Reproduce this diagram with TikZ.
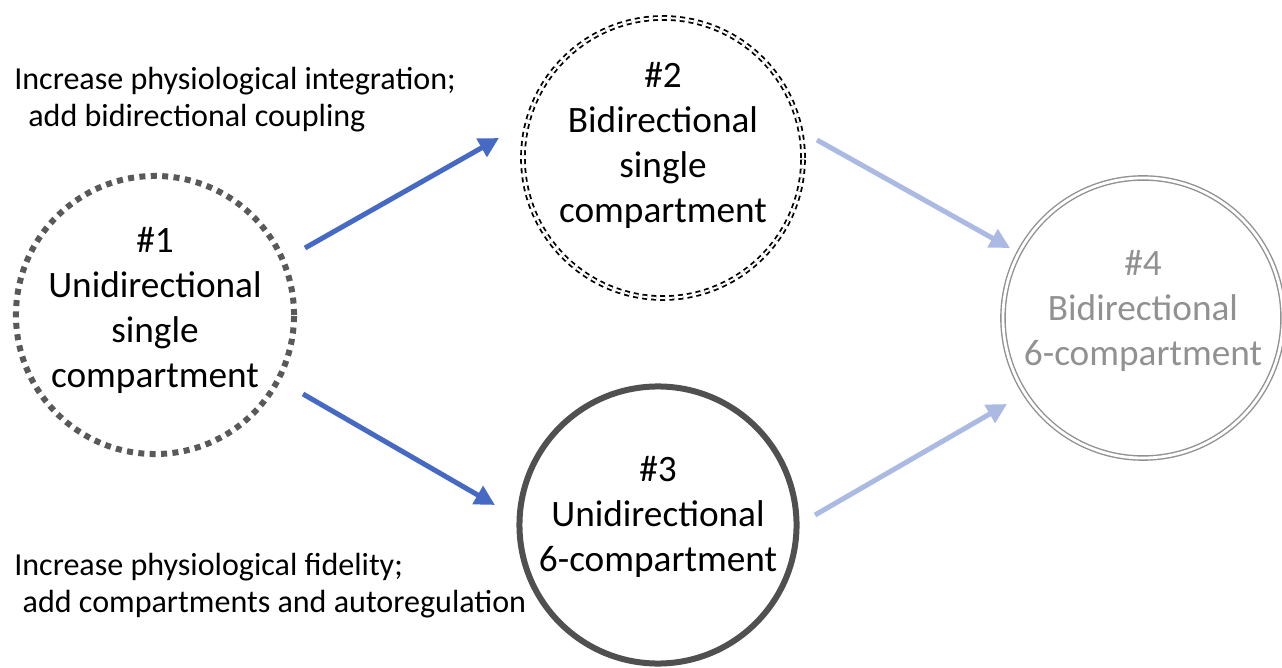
\documentclass[tikz,border=0pt]{standalone}
\usepackage{fontspec}
\setmainfont{Carlito}
\usetikzlibrary{calc,arrows.meta}

\definecolor{dotgray}{RGB}{89,89,89}
\definecolor{ringgray}{RGB}{80,80,80}
\definecolor{palegray}{RGB}{145,145,145}
\definecolor{arrblue}{RGB}{70,106,196}
\definecolor{arrpale}{RGB}{170,186,226}

\begin{document}
\begin{tikzpicture}[x=0.025cm,y=-0.025cm,>={Triangle[length=0.5cm,width=0.5cm]},
	stage/.style={circle,inner sep=0pt},
	stagetext/.style={inner sep=0pt,align=center,font=\fontsize{26.5}{32}\selectfont},
	note/.style={anchor=north west,inner sep=0pt,align=left,font=\fontsize{22.8}{26.5}\selectfont},
	arr/.style={->,line width=0.125cm}]

\useasboundingbox (0,0) rectangle (1282,668);

% the four model stages
\node [stage,draw=dotgray,line width=0.15cm,dash pattern=on 0.15cm off 0.135cm,minimum size=6.95cm,
	label={[stagetext,yshift=3pt]center:\#1\\Unidirectional\\single\\compartment}]
	(n1) at (155,315) {};
\node [stage,draw=black,line width=0.045cm,double distance=0.05cm,dash pattern=on 0.125cm off 0.1cm,minimum size=7cm,
	label={[stagetext,yshift=9pt]center:\#2\\Bidirectional\\single\\compartment}]
	(n2) at (663,158) {};
\node [stage,draw=ringgray,line width=0.15cm,minimum size=6.925cm,
	label={[stagetext,yshift=5.5pt]center:\#3\\Unidirectional\\6-compartment}]
	(n3) at (658,525) {};
\node [stage,draw=palegray,line width=0.035cm,double distance=0.07cm,minimum size=7cm,
	label={[stagetext,text=palegray,yshift=5pt]center:\#4\\Bidirectional\\6-compartment}]
	(n4) at (1143,318) {};

\node [note] (t1) at (14,67) {Increase physiological integration;\\\hspace*{10pt}add bidirectional coupling};
\node [note] (t2) at (14,553) {Increase physiological fidelity;\\\hspace*{6pt}add compartments and autoregulation};

\draw [arr,arrblue] ($(n1)+(150,-67)$) -- ($(n2)+(-164,-20)$);
\draw [arr,arrblue] ($(n1)+(148,79)$) -- ($(n3)+(-163,-20)$);
\draw [arr,arrpale] ($(n2)+(154,-18)$) -- ($(n4)+(-133,-70)$);
\draw [arr,arrpale] ($(n3)+(157,-10)$) -- ($(n4)+(-136,86)$);

\end{tikzpicture}
\end{document}
